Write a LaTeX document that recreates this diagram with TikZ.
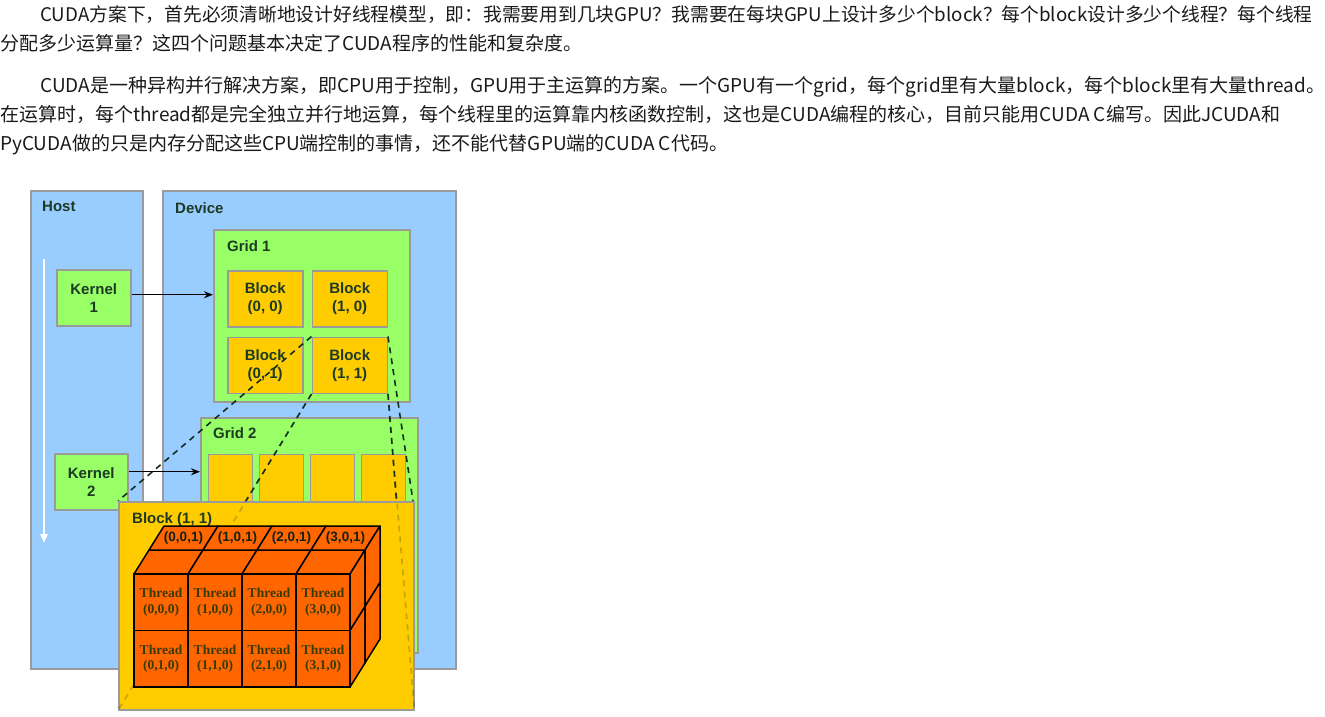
\documentclass[tikz,border=0pt]{standalone}
\usepackage{fontspec}
\setmainfont{Liberation Sans}
\newfontfamily\cjkfont{Noto Sans CJK SC}
\newfontfamily\threadfont{Liberation Serif}
\usetikzlibrary{positioning,arrows.meta}

\definecolor{hostblue}{HTML}{99CCFF}
\definecolor{gridgreen}{HTML}{99FF66}
\definecolor{blockyellow}{HTML}{FFCC00}
\definecolor{threadorange}{HTML}{FF6600}
\definecolor{edgegray}{HTML}{9A9A9A}
\definecolor{labeldark}{HTML}{1C3A24}
\definecolor{threadtext}{HTML}{3A3A08}
\definecolor{bodytext}{HTML}{1A1A1A}

\tikzset{
  bodyline/.style={anchor=base west,inner sep=0pt,text=bodytext,font=\cjkfont\fontsize{19}{22}\selectfont},
  boxlbl/.style={inner sep=0pt,text=labeldark,font=\bfseries\fontsize{15}{18}\selectfont},
  area/.style={draw=edgegray,line width=1.5pt,fill=hostblue,anchor=north west,inner sep=0pt},
  gridbox/.style={area,fill=gridgreen},
  kernel/.style={draw=edgegray,line width=1.5pt,fill=gridgreen,minimum width=74pt,minimum height=56pt,align=center,inner sep=0pt,text=labeldark,font=\bfseries\fontsize{15}{18}\selectfont},
  blockbox/.style={kernel,fill=blockyellow,minimum width=75pt,minimum height=56pt},
  smallblock/.style={draw=edgegray,line width=1.2pt,fill=blockyellow,anchor=north west,minimum width=44pt,minimum height=60pt},
  launch/.style={-{Stealth[length=9pt,width=7pt]},line width=1.4pt,black},
  zoomline/.style={line width=1.6pt,dash pattern=on 6pt off 5pt,draw=labeldark!80!black},
  threadcell/.style={draw=black,line width=1.5pt,fill=threadorange,minimum width=54pt,minimum height=56.5pt,inner sep=0pt,align=center,text=threadtext,font=\threadfont\bfseries\fontsize{13.5}{15.5}\selectfont},
  cubeface/.style={draw=black,line width=1.5pt,fill=threadorange,line join=round},
  toplbl/.style={inner sep=0pt,text=labeldark!60!black,font=\bfseries\fontsize{13.5}{15}\selectfont}
}

\begin{document}
\begin{tikzpicture}[x=1pt,y=-1pt]
\useasboundingbox (0,0) rectangle (1325,716);

% Text above the figure
\node[bodyline,font=\cjkfont\fontsize{18.75}{22}\selectfont] (lineA) at (40,21) {CUDA方案下，首先必须清晰地设计好线程模型，即：我需要用到几块GPU？我需要在每块GPU上设计多少个block？每个block设计多少个线程？每个线程};
\node[bodyline] (lineB) at (0,50) {分配多少运算量？这四个问题基本决定了CUDA程序的性能和复杂度。};
\node[bodyline] (lineC) at (40,92) {CUDA是一种异构并行解决方案，即CPU用于控制，GPU用于主运算的方案。一个GPU有一个grid，每个grid里有大量block，每个block里有大量thread。};
\node[bodyline] (lineD) at (0,121) {在运算时，每个thread都是完全独立并行地运算，每个线程里的运算靠内核函数控制，这也是CUDA编程的核心，目前只能用CUDA C编写。因此JCUDA和};
\node[bodyline] (lineE) at (0,150) {PyCUDA做的只是内存分配这些CPU端控制的事情，还不能代替GPU端的CUDA C代码。};

% Host and device
\node[area,minimum width=112pt,minimum height=478pt] (host) at (30,190) {};
\node[boxlbl,below right=10.5pt and 12pt of host.north west] (hostlbl) {Host};
\node[area,minimum width=293pt,minimum height=478pt] (device) at (162,190) {};
\node[boxlbl,below right=12pt and 13pt of device.north west] (devicelbl) {Device};

% Kernels on the host
\node[kernel,anchor=north west] (kernel1) at (56,269) {Kernel\\1};
\node[kernel,anchor=north west,minimum width=73pt] (kernel2) at (54,453) {Kernel\\2};

% Grid 1
\node[gridbox,minimum width=196pt,minimum height=172pt] (grid1) at (213,229) {};
\node[boxlbl,below right=11pt and 14pt of grid1.north west] (grid1lbl) {Grid 1};
\node[blockbox,anchor=north west] (blk00) at (227,270) {Block\\(0, 0)};
\node[blockbox,right=8pt of blk00] (blk10) {Block\\(1, 0)};
\node[blockbox,below=9pt of blk00] (blk01) {Block\\(0, 1)};
\node[blockbox,right=8pt of blk01] (blk11) {Block\\(1, 1)};

% Grid 2
\node[gridbox,minimum width=217pt,minimum height=235pt] (grid2) at (200,417) {};
\node[boxlbl,below right=10pt and 13pt of grid2.north west] (grid2lbl) {Grid 2};
\foreach \i in {0,...,3} \node[smallblock] (gblk\i) at (208+51*\i,454) {};

% Kernel launches
\draw[launch] ([yshift=3pt]kernel1.east) -- ([yshift=3pt]kernel1.east -| grid1.west);
\draw[launch] ([yshift=10pt]kernel2.east) -- ([yshift=10pt]kernel2.east -| grid2.west);

% Time runs downwards
\coordinate (timetop) at (44,259);
\coordinate (timebot) at (44,543);
\draw[white,line width=2.2pt,-{Triangle[length=9pt,width=7pt]}] (timetop) -- (timebot);

% Zoom from Block (1, 1)
\draw[zoomline] (blk11.north west) -- (118,501) coordinate (zoomnw);
\draw[zoomline] (blk11.north east) -- (413,501) coordinate (zoomne);
\draw[zoomline] (blk11.south west) -- (118,709) coordinate (zoomsw);
\draw[zoomline] (blk11.south east) -- (413,709) coordinate (zoomse);

% Block (1, 1) close-up
\node[area,fill=blockyellow,minimum width=295pt,minimum height=208pt] (bigblk) at (zoomnw) {};
\node[boxlbl,below right=11pt and 14pt of bigblk.north west] (bigblklbl) {Block (1, 1)};
\draw[zoomline,draw opacity=0.25] (blk11.south west) -- (bigblk.south west);
\draw[zoomline,draw opacity=0.25] (blk11.south east) -- (bigblk.south east);

% Threads: top and right faces
\foreach \i in {0,...,3} \foreach \k in {0,1}
  \draw[cubeface] (134+54*\i+15*\k,574-24*\k) -- ++(54,0) -- ++(15,-24) -- ++(-54,0) -- cycle;
\foreach \j in {0,1} \foreach \k in {0,1}
  \draw[cubeface] (350+15*\k,574+56.5*\j-24*\k) -- ++(15,-24) -- ++(0,56.5) -- ++(-15,24) -- cycle;
\foreach \i in {0,...,3} \node[toplbl] (top\i) at (134+54*\i+27+22.5,538) {(\i,0,1)};

% Threads: front face
\foreach \i in {0,...,3} \foreach \j in {0,1}
  \node[threadcell] (thr\i\j) at (134+54*\i+27,574+56.5*\j+28.25) {Thread\\(\i,\j,0)};
\end{tikzpicture}
\end{document}
